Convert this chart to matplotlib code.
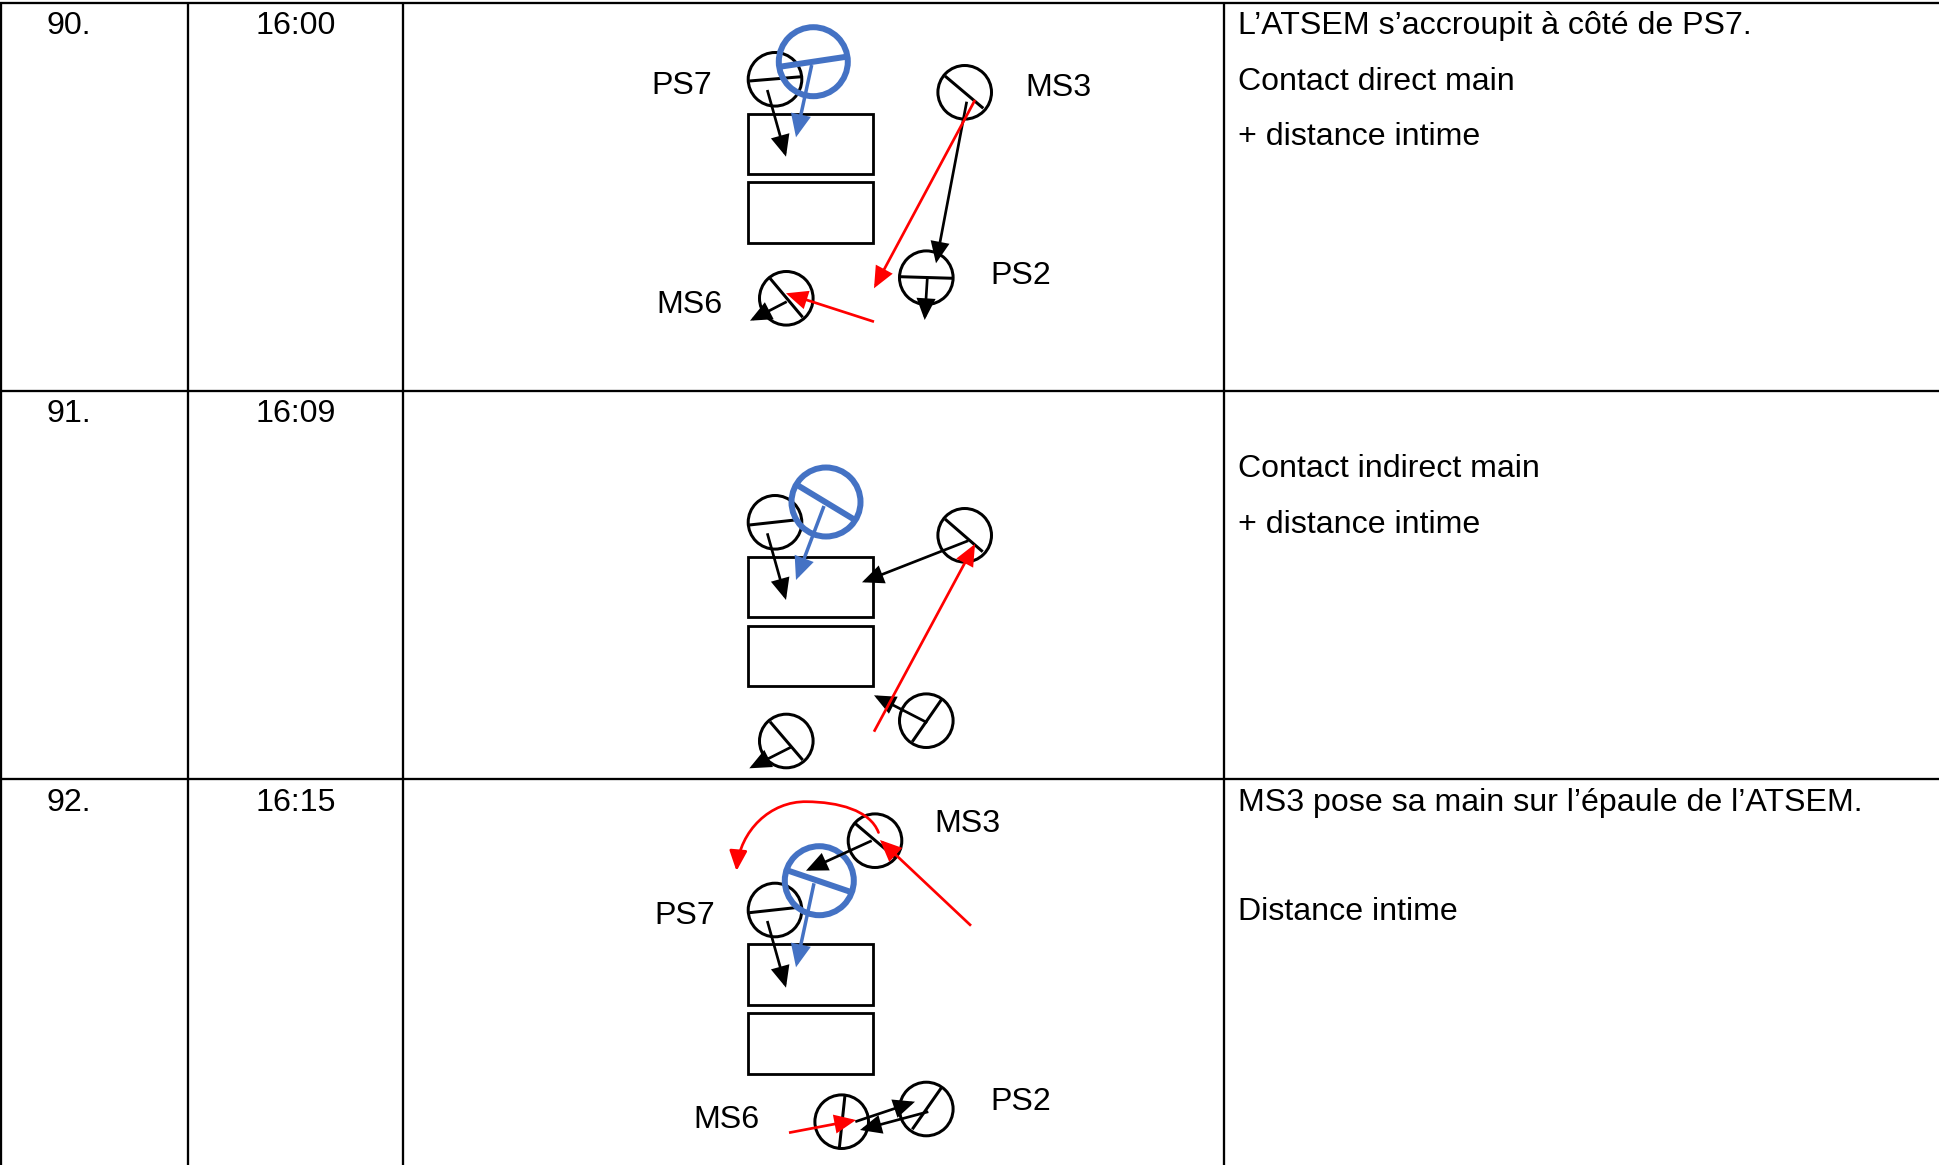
import matplotlib
matplotlib.use("Agg")
import matplotlib.pyplot as plt
from matplotlib.patches import Circle, Rectangle, FancyArrowPatch
from matplotlib.path import Path

W, H = 1939, 1165
DPI = 100
PX = 72 / DPI
BLACK, BLUE, RED = "#000000", "#4472C4", "#FF0000"
plt.rcParams["font.family"] = ["Liberation Sans", "DejaVu Sans"]

# Table grid
column_edges = [0.8, 187.7, 403.3, 1224]
row_edges = [2.7, 390.7, 779]

# Table text: (x, baseline, string)
row_numbers = [(47, 34, "90."), (47, 422.5, "91."), (47, 810.7, "92.")]
row_times = [(256, 34, "16:00"), (256, 422.5, "16:09"), (256, 810.7, "16:15")]
comments = [
    (1238, 34.2, "L’ATSEM s’accroupit à côté de PS7."),
    (1238, 89.8, "Contact direct main"),
    (1238, 145.4, "+ distance intime"),
    (1238, 477, "Contact indirect main"),
    (1238, 533.2, "+ distance intime"),
    (1238, 811, "MS3 pose sa main sur l’épaule de l’ATSEM."),
    (1238, 920.5, "Distance intime"),
]
person_labels = [
    (651, 94.3, "PS7"), (1025, 96.2, "MS3"), (990.5, 284.3, "PS2"), (656, 313, "MS6"),
    (934, 832.2, "MS3"), (654.5, 924.3, "PS7"), (693.5, 1128.2, "MS6"), (990.5, 1110.3, "PS2"),
]

# Tables in the diagrams: (x0, y0, x1, y1)
tables = [
    (747.5, 113.7, 873, 174.4), (747.5, 182.4, 873, 243),
    (747.5, 556.7, 873, 617.4), (747.5, 625.7, 873, 685.7),
    (747.5, 944.4, 873, 1005.4), (747.5, 1013, 873, 1073.7),
]

# Children: circle centre and shoulder line (cx, cy, x0, y0, x1, y1)
children = [
    (775, 79.3, 749.3, 81, 801.7, 76.7),
    (964.7, 92.3, 945, 76, 983.3, 108.3),
    (926.3, 277.7, 900, 276.7, 953.3, 278.3),
    (786.3, 298.3, 770, 278.3, 802.7, 317.3),
    (775, 522.3, 749.3, 525, 795, 520),
    (964.7, 535.3, 945, 519, 982.7, 551.7),
    (926.3, 720.7, 941.7, 699.3, 912.3, 741.7),
    (786.3, 741, 770, 721.7, 802.7, 760),
    (775, 910, 749.3, 912.7, 795, 907.7),
    (875, 840.7, 855, 823.3, 895, 857.3),
    (841.7, 1121.7, 845, 1095, 839.3, 1148.3),
    (926.3, 1109, 941.7, 1087.3, 912.3, 1129.3),
]
# ATSEM (blue)
adults = [
    (813.3, 61.7, 780, 66.7, 846.7, 56.7),
    (826, 502, 798.3, 485.7, 855, 520),
    (819.3, 880.7, 788.3, 870.7, 850, 891.7),
]

# Gaze / movement arrows: (x0, y0, x1, y1)
black_arrows = [
    (767.3, 90, 786, 156.7), (966.7, 101.7, 936, 263.3),
    (927.3, 278.3, 924.7, 320), (786.7, 301.7, 750, 320.7),
    (767.3, 533.3, 786, 600), (968.3, 540.7, 862, 582.3),
    (927.3, 722.7, 874, 695.3), (790.7, 747.3, 749.3, 768.3),
    (767.3, 921, 786, 987.7), (871.7, 840.7, 806, 870.7),
    (855.3, 1121.7, 915, 1101.7), (928.3, 1111.7, 860, 1130),
]
blue_arrows = [
    (811.7, 65, 796, 137.3), (824, 506, 796, 580), (814, 883.3, 796, 967.3),
]
red_arrows = [
    (975, 100, 874, 288.3), (874, 321.7, 786, 293.3),
    (874, 731.7, 975, 544),
    (971, 925.7, 880, 840), (789, 1132.7, 856, 1120),
]
# Curved red arrow, cubic Bézier control points
red_curve = [(878.5, 832.5), (870, 810), (838, 802), (806.7, 801.7),
             (770, 801), (740, 831), (736.5, 871)]

fig = plt.figure(figsize=(W / DPI, H / DPI), dpi=DPI, facecolor="white")
ax = fig.add_axes([0, 0, 1, 1])
ax.set_xlim(0, W)
ax.set_ylim(H, 0)
ax.axis("off")

GRID_LW = 2.3 * PX
for x in column_edges:
    ax.plot([x, x], [row_edges[0], H], color=BLACK, lw=GRID_LW, solid_capstyle="butt")
for y in row_edges:
    ax.plot([0, W], [y, y], color=BLACK, lw=GRID_LW, solid_capstyle="butt")

TEXT_PX = 32.2
for group in (row_numbers, row_times, comments, person_labels):
    for x, y, s in group:
        ax.text(x, y, s, fontsize=TEXT_PX * PX, color="black", ha="left", va="baseline")

for x0, y0, x1, y1 in tables:
    ax.add_patch(Rectangle((x0, y0), x1 - x0, y1 - y0, fill=False, ec=BLACK, lw=2.8 * PX, joinstyle="miter"))


def person(row, color, radius, lw):
    cx, cy, x0, y0, x1, y1 = row
    ax.add_patch(Circle((cx, cy), radius, fill=False, ec=color, lw=lw, zorder=3))
    ax.plot([x0, x1], [y0, y1], color=color, lw=lw, solid_capstyle="butt", zorder=3)


def arrow(row, color, lw, hl, hw, z):
    x0, y0, x1, y1 = row
    ax.add_patch(FancyArrowPatch((x0, y0), (x1, y1), shrinkA=0, shrinkB=0, mutation_scale=1,
                                 arrowstyle=f"-|>,head_length={hl * PX},head_width={hw * PX}",
                                 color=color, lw=lw, zorder=z, joinstyle="miter", capstyle="butt"))


for row in children:
    person(row, BLACK, 26.8, 3.0 * PX)
for row in black_arrows:
    arrow(row, BLACK, 2.7 * PX, 17, 7.5, 4)
for row in adults:
    person(row, BLUE, 34.5, 6.0 * PX)
for row in blue_arrows:
    arrow(row, BLUE, 3.5 * PX, 17, 7.5, 4)
for row in red_arrows:
    arrow(row, RED, 2.7 * PX, 17, 7.5, 5)

codes = [Path.MOVETO] + [Path.CURVE4] * 6
ax.add_patch(FancyArrowPatch(path=Path(red_curve, codes), mutation_scale=1,
                             arrowstyle=f"-|>,head_length={17 * PX},head_width={7.5 * PX}",
                             color=RED, lw=2.7 * PX, zorder=5))

fig.savefig("out.png", dpi=DPI, facecolor="white")
